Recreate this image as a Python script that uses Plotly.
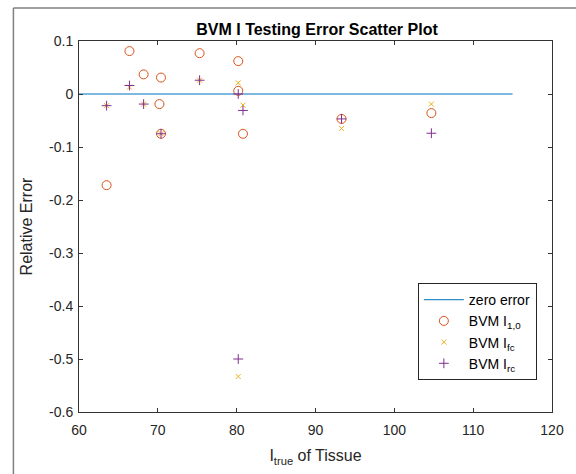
import plotly.graph_objects as go

# Data
zero_x = [60, 115]
zero_y = [0, 0]

x_10 = [63.5, 66.4, 68.2, 70.4, 70.2, 70.4, 75.3, 80.2, 80.2, 80.8, 93.3, 104.7]
y_10 = [-0.172, 0.081, 0.037, 0.031, -0.019, -0.075, 0.077, 0.062, 0.006, -0.075, -0.047, -0.036]

x_fc = [63.5, 66.4, 68.2, 70.4, 75.3, 80.2, 80.2, 80.8, 93.3, 104.7]
y_fc = [-0.022, 0.013, -0.019, -0.075, 0.026, 0.021, -0.533, -0.021, -0.065, -0.019]

x_rc = [63.5, 66.4, 68.2, 70.4, 75.3, 80.2, 80.2, 80.8, 93.3, 104.7]
y_rc = [-0.022, 0.016, -0.019, -0.075, 0.026, 0.000, -0.500, -0.031, -0.047, -0.074]

x_ticks = [60, 70, 80, 90, 100, 110, 120]
y_ticks = [0.1, 0, -0.1, -0.2, -0.3, -0.4, -0.5, -0.6]
y_ticktext = ["0.1", "0", "-0.1", "-0.2", "-0.3", "-0.4", "-0.5", "-0.6"]

FONT = "Liberation Sans, Arial, Helvetica, sans-serif"
AX = "#333333"

fig = go.Figure()
fig.add_trace(go.Scatter(x=zero_x, y=zero_y, mode="lines", name="zero error",
                         line=dict(color="#0072BD", width=1)))
fig.add_trace(go.Scatter(x=x_10, y=y_10, mode="markers", name="BVM I<sub>1,0</sub>",
                         marker=dict(symbol="circle-open", size=9, color="#D95319",
                                     line=dict(width=1, color="#D95319"))))
fig.add_trace(go.Scatter(x=x_fc, y=y_fc, mode="markers", name="BVM I<sub>fc</sub>",
                         marker=dict(symbol="x-thin-open", size=5, color="#EDB120",
                                     line=dict(width=1, color="#EDB120"))))
fig.add_trace(go.Scatter(x=x_rc, y=y_rc, mode="markers", name="BVM I<sub>rc</sub>",
                         marker=dict(symbol="cross-thin-open", size=7, color="#7E2F8E",
                                     line=dict(width=1, color="#7E2F8E"))))

L, R, T, B = 79, 21, 41, 62
W, H = 576, 474
pw, ph = W - L - R, H - T - B

# outer gray frame (left and top edges visible)
fx0 = (13 - L) / pw
fy1 = 1 + (T - 8) / ph
fx1 = (W + 10 - L) / pw
fy0 = -(B + 10) / ph
fig.add_shape(type="line", xref="paper", yref="paper", x0=fx0, x1=fx0, y0=fy0, y1=fy1,
              line=dict(color="#808080", width=1.5))
fig.add_shape(type="line", xref="paper", yref="paper", x0=fx0, x1=fx1, y0=fy1, y1=fy1,
              line=dict(color="#808080", width=1.5))

fig.update_layout(
    width=W, height=H,
    margin=dict(l=L, r=R, t=T, b=B),
    paper_bgcolor="white", plot_bgcolor="white",
    font=dict(family=FONT, size=14, color="#262626"),
    title=dict(text="<b>BVM I Testing Error Scatter Plot</b>", x=(L + pw / 2) / W, xanchor="center",
               y=1 - 29 / H, yanchor="middle", font=dict(size=16, color="#000000")),
    showlegend=True,
    legend=dict(x=0.968, y=0.086, xanchor="right", yanchor="bottom",
                bgcolor="white", bordercolor="#262626", borderwidth=1,
                font=dict(size=14, color="#000000"), tracegroupgap=0,
                itemwidth=40),
)
fig.update_xaxes(range=[60, 120], tickvals=x_ticks, ticks="inside", ticklen=4,
                 showline=True, linecolor=AX, linewidth=1, mirror="ticks",
                 tickcolor=AX, showgrid=False, zeroline=False, ticklabelstandoff=5,
                 tickfont=dict(size=14, color="#262626"),
                 title=dict(text="I<sub>true</sub> of Tissue", font=dict(size=16, color="#262626"),
                            standoff=13))
fig.update_yaxes(range=[-0.6, 0.1], tickvals=y_ticks, ticktext=y_ticktext, ticks="inside",
                 ticklen=4, showline=True, linecolor=AX, linewidth=1, mirror="ticks",
                 tickcolor=AX, showgrid=False, zeroline=False, ticklabelstandoff=2,
                 tickfont=dict(size=14, color="#262626"),
                 title=dict(text="Relative Error", font=dict(size=16, color="#262626"),
                            standoff=12))

fig.write_html("out.html")
